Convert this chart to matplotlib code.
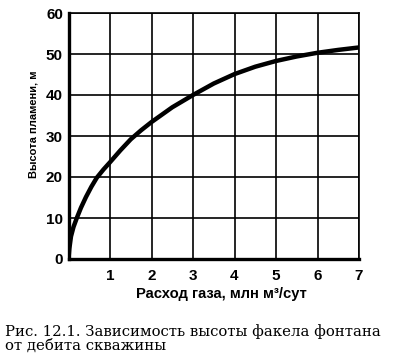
import matplotlib.pyplot as plt

# Расход газа, млн м3/сут и высота пламени, м
rashod = [0, 0.02, 0.06, 0.12, 0.2, 0.3, 0.42, 0.55, 0.68, 0.84, 1.0, 1.25, 1.5, 1.75,
          2.0, 2.5, 3.0, 3.5, 4.0, 4.5, 5.0, 5.5, 6.0, 6.5, 7.0]
vysota = [0, 2.5, 5.5, 7.8, 10.0, 12.5, 15.1, 17.6, 19.8, 21.8, 23.6, 26.5, 29.2, 31.4,
          33.4, 37.0, 40.0, 42.8, 45.1, 46.9, 48.3, 49.4, 50.3, 51.0, 51.6]

x_ticks = [0, 1, 2, 3, 4, 5, 6, 7]
x_labels = ['', '1', '2', '3', '4', '5', '6', '7']
y_ticks = [0, 10, 20, 30, 40, 50, 60]

W, H = 393, 364
fig = plt.figure(figsize=(W / 100, H / 100), dpi=100)
ax = fig.add_axes([68.5 / W, 1 - 259 / H, 290.5 / W, 246 / H])

ax.plot(rashod, vysota, color='black', linewidth=3.2, solid_capstyle='round', zorder=3)

ax.set_xlim(0, 7)
ax.set_ylim(0, 60)
ax.set_xticks(x_ticks)
ax.set_xticklabels(x_labels)
ax.set_yticks(y_ticks)
ax.tick_params(length=0, pad=4)
for lab in ax.get_xticklabels() + ax.get_yticklabels():
    lab.set_fontfamily('Liberation Sans')
    lab.set_fontweight('bold')
    lab.set_fontsize(11)
ax.tick_params(axis='x', pad=7)

ax.grid(True, color='black', linewidth=1.2)
ax.set_axisbelow(True)
for side in ['top', 'right']:
    ax.spines[side].set_linewidth(1.2)
for side in ['left', 'bottom']:
    ax.spines[side].set_linewidth(2.4)

fig.text(33 / W, 1 - 124 / H, 'Высота пламени, м', rotation=90, ha='center', va='center',
         fontfamily='Liberation Sans', fontweight='bold', fontsize=8)
fig.text(221 / W, 1 - 294 / H, 'Расход газа, млн м³/сут', ha='center', va='center',
         fontfamily='Liberation Sans', fontweight='bold', fontsize=10.6)

# подпись к рисунку
fig.text(5 / W, 1 - 324 / H,
         'Рис. 12.1. Зависимость высоты факела фонтана\nот дебита скважины',
         ha='left', va='top', fontfamily='DejaVu Serif', fontsize=10.7, linespacing=1.0)

fig.savefig('out.png', dpi=100)
